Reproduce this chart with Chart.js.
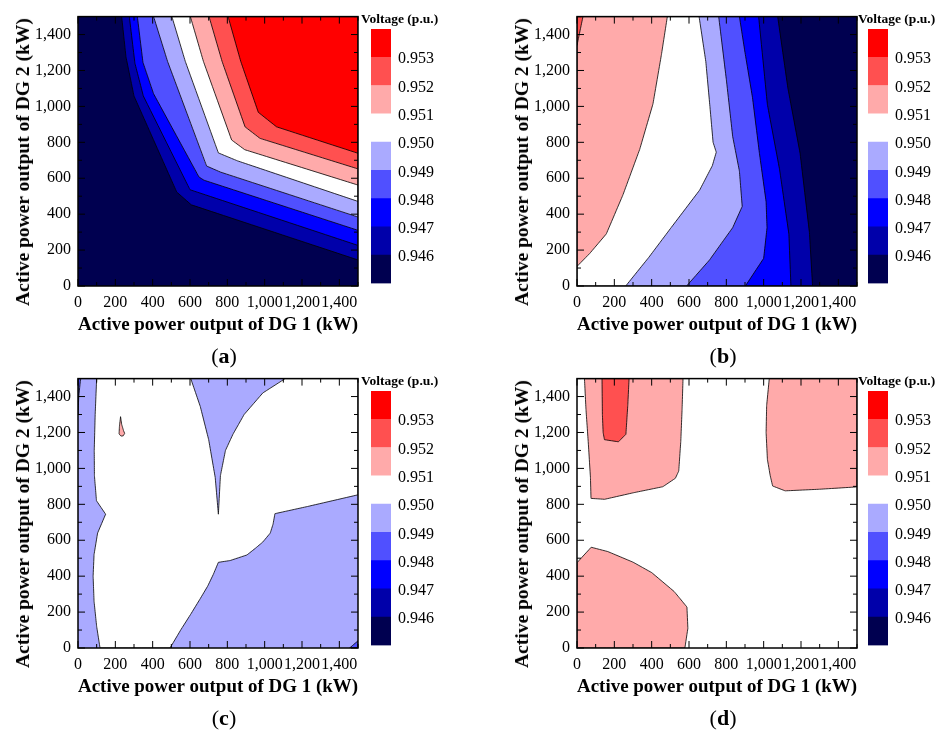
<!DOCTYPE html>
<html>
<head>
<meta charset="utf-8">
<script src="https://cdn.jsdelivr.net/npm/chart.js@4.4.1/dist/chart.umd.min.js"></script>
<style>
  body { margin: 0; width: 936px; height: 731px; background: #fff; position: relative; overflow: hidden;
         font-family: 'Liberation Serif', 'Times New Roman', serif; color: #000; }
  .panel { position: absolute; width: 437px; height: 369px; }
  .panel canvas { position: absolute; }
  .ytitle { position: absolute; font-weight: bold; font-size: 19.5px; white-space: nowrap;
            transform: translate(-50%, -50%) rotate(-90deg); }
  .cbtitle { position: absolute; font-weight: bold; font-size: 13.5px; white-space: nowrap;
             line-height: 1; transform: translateY(-50%); }
  .letter { position: absolute; font-size: 22px; white-space: nowrap; transform: translate(-50%, -50%); }
</style>
</head>
<body>
<script>
// ---- data ----
const xTicks = [0, 200, 400, 600, 800, 1000, 1200, 1400];
const yTicks = [0, 200, 400, 600, 800, 1000, 1200, 1400];
const levels = [0.946, 0.947, 0.948, 0.949, 0.950, 0.951, 0.952, 0.953];

// contour lines (kW of DG 1, kW of DG 2)
// (a)
const a946 = [[234, 1500], [257, 1276], [300, 1058], [529, 523], [607, 452], [1500, 145]];
const a947 = [[275, 1500], [305, 1240], [350, 1058], [600, 536], [1500, 226]];
const a948 = [[318, 1500], [348, 1245], [405, 1070], [648, 607], [675, 589], [1500, 310]];
const a949 = [[405, 1500], [480, 1250], [689, 668], [764, 634], [1500, 384]];
const a950 = [[503, 1500], [575, 1250], [752, 741], [854, 697], [1500, 471]];
const a951 = [[602, 1500], [672, 1250], [823, 813], [893, 759], [1500, 562]];
const a952 = [[702, 1500], [772, 1250], [895, 886], [975, 822], [1500, 652]];
const a953 = [[804, 1500], [872, 1250], [966, 967], [1064, 886], [1500, 739]];
// (b)
const b946 = [[1262, 0], [1245, 300], [1195, 740], [1130, 1100], [1075, 1500]];
const b947 = [[1146, 0], [1135, 290], [1085, 650], [1020, 1010], [973, 1500]];
const b948 = [[902, 0], [1000, 154], [1018, 325], [1013, 470], [977, 741], [940, 1050], [900, 1300], [870, 1500]];
const b949 = [[587, 0], [710, 145], [834, 325], [885, 443], [870, 640], [834, 832], [800, 1150], [759, 1500]];
const b950 = [[261, 0], [385, 160], [505, 326], [657, 534], [725, 670], [746, 745], [729, 800], [712, 1000], [690, 1250], [654, 1500]];
const b951 = [[0, 109], [68, 181], [157, 290], [246, 507], [336, 761], [407, 1014], [452, 1286], [484, 1500]];
const b952 = [[32, 1500], [0, 1340]];
// (c)
const cWhite = [
  [118, 0], [100, 120], [86, 260], [81, 400], [86, 520], [105, 640], [148, 745], [99, 820], [88, 960],
  [87, 1100], [92, 1300], [100, 1500], [604, 1500], [655, 1345], [700, 1160], [735, 950], [752, 745],
  [763, 960], [790, 1100], [830, 1190], [890, 1300], [990, 1420], [1110, 1500], [1500, 1500], [1500, 853],
  [1230, 788], [1055, 748], [1045, 690], [1030, 640], [990, 590], [950, 555], [905, 518], [815, 487],
  [752, 477], [725, 410], [695, 345], [655, 275], [605, 190], [550, 100], [493, 0]
];
const cPink = [[228, 1288], [234, 1245], [244, 1210], [250, 1195], [242, 1181], [230, 1180], [220, 1192], [222, 1235]];
const cMidTop = [[0, 1500], [14, 1500], [4, 1400], [0, 1300]];
const cMidCorner = [[1500, 0], [1500, 40], [1455, 0]];
// (d)
const dPinkTL = [[40, 1500], [48, 1330], [60, 1150], [72, 950], [75, 833], [148, 828], [305, 865], [460, 898],
  [527, 945], [545, 985], [556, 1150], [563, 1330], [568, 1500]];
const dSalmon = [[134, 1500], [136, 1300], [140, 1200], [147, 1160], [222, 1148], [262, 1190], [272, 1350], [279, 1500]];
const dPinkTR = [[1030, 1500], [1016, 1350], [1013, 1200], [1020, 1050], [1035, 960], [1048, 902], [1115, 875],
  [1300, 884], [1500, 897], [1500, 1500]];
const dPinkBL = [[0, 0], [0, 475], [76, 561], [165, 537], [300, 478], [400, 420], [520, 315], [552, 275],
  [589, 228], [594, 110], [578, 0]];

// ---- style ----
// band colours: below 0.946 ... above 0.953
const bandColors = ['#000050', '#0000aa', '#0000ff', '#5050ff', '#aaaaff', '#ffffff', '#ffaaaa', '#ff5050', '#ff0000'];
const TR = [[1500, 1500]];
const TL = [[0, 1500]];
const LEFT = [[0, 1500], [0, 0]];

const panels = [
  { letter: 'a', ox: 0, oy: 0, cbPad: 13, cbTitle: 361, bg: 0,
    regions: [[a946, 1, TR], [a947, 2, TR], [a948, 3, TR], [a949, 4, TR], [a950, 5, TR], [a951, 6, TR], [a952, 7, TR], [a953, 8, TR]] },
  { letter: 'b', ox: 499, oy: 0, cbPad: 11, cbTitle: 359, bg: 0,
    regions: [[b946, 1, LEFT], [b947, 2, LEFT], [b948, 3, LEFT], [b949, 4, LEFT], [b950, 5, LEFT], [b951, 6, TL], [b952, 7, TL]] },
  { letter: 'c', ox: 0, oy: 362, cbPad: 13, cbTitle: 361, bg: 4,
    regions: [[cWhite, 5], [cPink, 6], [cMidTop, 3], [cMidCorner, 3]] },
  { letter: 'd', ox: 499, oy: 362, cbPad: 11, cbTitle: 359, bg: 5,
    regions: [[dPinkTL, 6], [dSalmon, 7], [dPinkTR, 6], [dPinkBL, 6]] }
];

Chart.defaults.font.family = "'Liberation Serif', 'Times New Roman', serif";
Chart.defaults.color = '#000';

// background, inward ticks and frame
const framePlugin = {
  id: 'frame',
  beforeDatasetsDraw(chart, args, opts) {
    const { ctx, chartArea: a } = chart;
    ctx.save();
    ctx.fillStyle = opts.bg;
    ctx.fillRect(a.left, a.top, a.right - a.left, a.bottom - a.top);
    ctx.restore();
  },
  afterDatasetsDraw(chart) {
    const { ctx, chartArea: a, scales: { x, y } } = chart;
    ctx.save();
    ctx.strokeStyle = '#000';
    ctx.lineWidth = 1;
    ctx.beginPath();
    for (let v = 0; v <= 1500; v += 100) {
      const len = v % 200 === 0 ? 7 : 4;
      const px = x.getPixelForValue(v);
      const py = y.getPixelForValue(v);
      ctx.moveTo(px, a.bottom); ctx.lineTo(px, a.bottom - len);
      ctx.moveTo(px, a.top); ctx.lineTo(px, a.top + len);
      ctx.moveTo(a.left, py); ctx.lineTo(a.left + len, py);
      ctx.moveTo(a.right, py); ctx.lineTo(a.right - len, py);
    }
    ctx.stroke();
    ctx.lineWidth = 1.5;
    ctx.strokeRect(a.left, a.top, a.right - a.left, a.bottom - a.top);
    ctx.restore();
  }
};

function region(points, band, corners) {
  const pts = points.concat(corners || []);
  pts.push(pts[0]);
  return {
    data: pts.map(p => ({ x: p[0], y: p[1] })),
    showLine: true,
    fill: 'shape',
    pointRadius: 0,
    tension: 0.000001,   // keeps the exact polygon path (no x-pixel merging)
    borderWidth: 0.8,
    borderColor: '#000',
    backgroundColor: bandColors[band]
  };
}

function makeCanvas(parent, left, top, w, h) {
  const c = document.createElement('canvas');
  c.width = w; c.height = h;
  c.style.left = left + 'px'; c.style.top = top + 'px';
  c.style.width = w + 'px'; c.style.height = h + 'px';
  parent.appendChild(c);
  return c;
}

function addText(parent, cls, html, left, top) {
  const d = document.createElement('div');
  d.className = cls;
  d.innerHTML = html;
  d.style.left = left + 'px';
  d.style.top = top + 'px';
  parent.appendChild(d);
}

const fmt = v => Number(v).toLocaleString('en-US');

panels.forEach(p => {
  const div = document.createElement('div');
  div.className = 'panel';
  div.style.left = p.ox + 'px';
  div.style.top = p.oy + 'px';
  document.body.appendChild(div);

  // contour map
  const main = makeCanvas(div, 0, 0, 365, 345);
  new Chart(main, {
    type: 'scatter',
    data: { datasets: p.regions.map(r => region(r[0], r[1], r[2])).reverse() },
    options: {
      responsive: false,
      animation: false,
      events: [],
      layout: { padding: { top: 10, right: 7, left: 0, bottom: 0 } },
      plugins: { legend: { display: false }, tooltip: { enabled: false }, frame: { bg: bandColors[p.bg] } },
      scales: {
        x: {
          type: 'linear', min: 0, max: 1500,
          grid: { display: false, drawTicks: false }, border: { display: false },
          afterBuildTicks: s => { s.ticks = xTicks.map(v => ({ value: v })); },
          afterFit: s => { s.height = 59; },
          ticks: { padding: 7, autoSkip: false, maxRotation: 0, font: { size: 16 }, callback: fmt },
          title: { display: true, text: 'Active power output of DG 1 (kW)',
                   font: { size: 19.5, weight: 'bold' }, padding: { top: 0, bottom: 8 } }
        },
        y: {
          type: 'linear', min: 0, max: 1500,
          grid: { display: false, drawTicks: false }, border: { display: false },
          afterBuildTicks: s => { s.ticks = yTicks.map(v => ({ value: v })); },
          afterFit: s => { s.width = 78; },
          ticks: { padding: 7, autoSkip: false, font: { size: 16 }, callback: fmt }
        }
      }
    },
    plugins: [framePlugin]
  });

  // colour bar
  const cbW = 79;
  const cb = makeCanvas(div, 358, 0, cbW, 300);
  new Chart(cb, {
    type: 'bar',
    data: {
      labels: [''],
      datasets: bandColors.map(c => ({
        data: [1], backgroundColor: c, borderWidth: 0, barPercentage: 1, categoryPercentage: 1
      }))
    },
    options: {
      responsive: false,
      animation: false,
      events: [],
      layout: { padding: { left: p.cbPad, top: 29, bottom: 13, right: 0 } },
      plugins: { legend: { display: false }, tooltip: { enabled: false } },
      scales: {
        x: { display: false, stacked: true },
        y: {
          position: 'right', stacked: true, min: 0, max: 9,
          grid: { display: false, drawTicks: false }, border: { display: false },
          afterBuildTicks: s => { s.ticks = levels.map((l, i) => ({ value: i + 1 })); },
          afterFit: s => { s.width = cbW - p.cbPad - 20; },
          ticks: { padding: 7, autoSkip: false, font: { size: 16 }, labelOffset: 2,
                   callback: v => levels[v - 1].toFixed(3) }
        }
      }
    }
  });

  addText(div, 'ytitle', 'Active power output of DG 2 (kW)', 23, 161.5);
  addText(div, 'cbtitle', 'Voltage (p.u.)', p.cbTitle, 19);
  addText(div, 'letter', '(<b>' + p.letter + '</b>)', 224, 356);
});
</script>
</body>
</html>
